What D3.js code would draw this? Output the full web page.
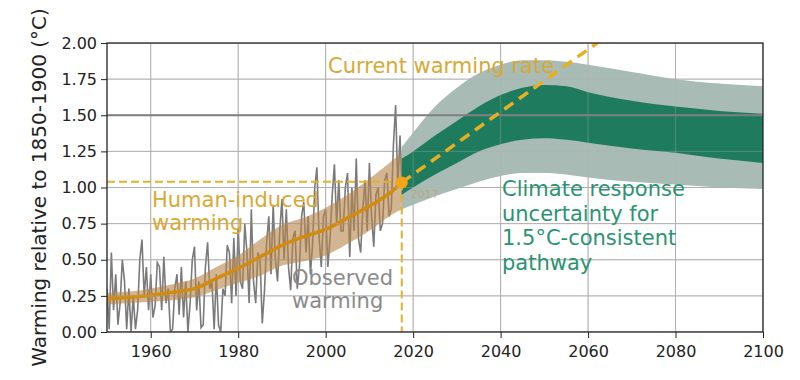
<!DOCTYPE html>
<html>
<head>
<meta charset="utf-8">
<script src="https://cdn.jsdelivr.net/npm/d3@7"></script>
<style>
  body { margin: 0; background: #fff; }
  text { font-family: "DejaVu Sans", sans-serif; }
</style>
</head>
<body>
<div id="chart"></div>
<script>
// axis ticks
const xTicks = [1960, 1980, 2000, 2020, 2040, 2060, 2080, 2100]
const yTicks = [0, 0.25, 0.5, 0.75, 1.0, 1.25, 1.5, 1.75, 2.0]

// observed monthly-ish warming, two readings per year from 1950
const obsStart = 1950
const obsStep = 0.5
const obsValues = [
  0.30,0.02, 0.55,0.15, 0.40,0.05, 0.20,0.50, 0.35,0.02, 0.30,0.00, 0.25,0.02, 0.15,0.50, 0.64,0.25, 0.45,0.15,
  0.40,0.10, 0.18,0.48, 0.45,0.15, 0.52,0.20, 0.30,0.00, 0.02,0.30, 0.40,0.12, 0.45,0.10, 0.35,0.00, 0.20,0.50,
  0.59,0.15, 0.35,0.03, 0.05,0.45, 0.62,0.30, 0.35,0.02, 0.40,0.05, 0.00,0.30, 0.25,0.60, 0.55,0.20, 0.65,0.25,
  0.72,0.35, 0.30,0.75, 0.55,0.20, 0.85,0.35, 0.20,0.55, 0.50,0.06, 0.28,0.62, 0.80,0.40, 0.88,0.50, 0.35,0.70,
  0.92,0.50, 0.85,0.45, 0.29,0.65, 0.70,0.30, 0.45,0.80, 0.90,0.55, 0.80,0.40, 0.60,1.00, 1.14,0.65, 0.45,0.80,
  0.85,0.45, 0.65,0.95, 1.16,0.75, 1.05,0.70, 0.70,1.00, 1.10,0.52, 1.00,0.70, 1.20,0.65, 0.55,0.85, 1.05,0.70,
  1.17,0.80, 0.59,0.95, 1.00,0.70, 0.75,1.05, 1.10,0.80, 0.85,1.30, 1.57,1.00, 1.36,0.95
]

// human-induced warming and its likely range
const humanYears = [1950, 1955, 1960, 1965, 1970, 1975, 1980, 1985, 1990, 1995, 2000, 2005, 2010, 2015, 2017.4]
const humanMid   = [0.23, 0.24, 0.255, 0.275, 0.30, 0.37, 0.44, 0.52, 0.60, 0.66, 0.71, 0.79, 0.87, 0.97, 1.035]
const humanLow   = [0.19, 0.20, 0.21, 0.22, 0.24, 0.29, 0.34, 0.39, 0.46, 0.49, 0.53, 0.61, 0.70, 0.81, 0.85]
const humanHigh  = [0.27, 0.28, 0.30, 0.33, 0.37, 0.45, 0.53, 0.64, 0.74, 0.79, 0.86, 0.95, 1.06, 1.18, 1.24]

// climate response uncertainty for 1.5C pathway
const pathYears    = [2017.4, 2020, 2025, 2030, 2035, 2040, 2045, 2050, 2055, 2060, 2070, 2080, 2090, 2100]
const pathOuterTop = [1.28, 1.38, 1.56, 1.69, 1.79, 1.85, 1.88, 1.88, 1.87, 1.85, 1.80, 1.75, 1.72, 1.70]
const pathInnerTop = [1.20, 1.25, 1.36, 1.46, 1.56, 1.64, 1.69, 1.71, 1.70, 1.66, 1.60, 1.56, 1.53, 1.51]
const pathInnerBot = [0.95, 1.00, 1.09, 1.17, 1.25, 1.30, 1.33, 1.34, 1.33, 1.31, 1.27, 1.24, 1.20, 1.17]
const pathOuterBot = [0.85, 0.88, 0.94, 0.99, 1.04, 1.08, 1.10, 1.10, 1.09, 1.07, 1.04, 1.02, 1.00, 0.99]

// current point and warming-rate line
const current = { year: 2017.4, value: 1.035 }
const rateLine = [[2017.4, 1.035], [2066, 2.085]]

const W = 800, H = 380
const pL = 107, pR = 763, pT = 43, pB = 332

const x = d3.scaleLinear().domain([1950, 2100]).range([pL, pR])
const y = d3.scaleLinear().domain([0, 2]).range([pB, pT])

const svg = d3.select('#chart').append('svg')
  .attr('width', W).attr('height', H)

svg.append('defs').append('clipPath').attr('id', 'plot')
  .append('rect').attr('x', pL).attr('y', pT)
  .attr('width', pR - pL).attr('height', pB - pT)

const plot = svg.append('g').attr('clip-path', 'url(#plot)')

function drawGrid(g, op) {
  g.selectAll('.gx').data(xTicks).enter().append('line')
    .attr('x1', d => x(d)).attr('x2', d => x(d))
    .attr('y1', pT).attr('y2', pB)
    .attr('stroke', '#b0b0b0').attr('stroke-width', 1).attr('opacity', op)
  g.selectAll('.gy').data(yTicks).enter().append('line')
    .attr('x1', pL).attr('x2', pR)
    .attr('y1', d => y(d)).attr('y2', d => y(d))
    .attr('stroke', '#b0b0b0').attr('stroke-width', 1).attr('opacity', op)
}
drawGrid(plot.append('g'), 1)

// observed
const obs = obsValues.map((v, i) => [obsStart + i * obsStep, v])
plot.append('path')
  .datum(obs)
  .attr('d', d3.line().x(d => x(d[0])).y(d => y(d[1])))
  .attr('fill', 'none')
  .attr('stroke', '#6c6c6c')
  .attr('stroke-opacity', 0.9)
  .attr('stroke-width', 1.6)

// human-induced band + line
const hum = humanYears.map((yr, i) => ({ yr, mid: humanMid[i], lo: humanLow[i], hi: humanHigh[i] }))
plot.append('path')
  .datum(hum)
  .attr('d', d3.area().curve(d3.curveMonotoneX)
    .x(d => x(d.yr)).y0(d => y(d.lo)).y1(d => y(d.hi)))
  .attr('fill', '#b8844a').attr('fill-opacity', 0.6)

plot.append('path')
  .datum(hum)
  .attr('d', d3.line().curve(d3.curveMonotoneX).x(d => x(d.yr)).y(d => y(d.mid)))
  .attr('fill', 'none').attr('stroke', '#d18c10').attr('stroke-width', 3.5)

// pathway bands
const band = pathYears.map((yr, i) => ({
  yr, ot: pathOuterTop[i], it: pathInnerTop[i], ib: pathInnerBot[i], ob: pathOuterBot[i]
}))
plot.append('path')
  .datum(band)
  .attr('d', d3.area().curve(d3.curveMonotoneX)
    .x(d => x(d.yr)).y0(d => y(d.ob)).y1(d => y(d.ot)))
  .attr('fill', '#a8bbb4')
plot.append('path')
  .datum(band)
  .attr('d', d3.area().curve(d3.curveMonotoneX)
    .x(d => x(d.yr)).y0(d => y(d.ib)).y1(d => y(d.it)))
  .attr('fill', '#1f7b5d')

// grid shows faintly through the bands
drawGrid(plot.append('g'), 0.35)

// 1.5 line
plot.append('line')
  .attr('x1', pL).attr('x2', pR)
  .attr('y1', y(1.5)).attr('y2', y(1.5))
  .attr('stroke', '#7f7f7f').attr('stroke-width', 2)

// texts
const gold = '#d8a935'
function label(lines, tx, ty, color, lh) {
  const t = svg.append('text').attr('x', tx).attr('y', ty)
    .attr('fill', color).attr('font-size', 21)
  lines.forEach((s, i) => t.append('tspan').attr('x', tx).attr('dy', i ? lh : 0).text(s))
}
label(['Current warming rate'], 328, 73, gold, 0)
label(['Human-induced', 'warming'], 152, 207, gold, 23)
label(['Observed', 'warming'], 292, 285, '#8a8a8a', 23)
label(['Climate response', 'uncertainty for', '1.5°C-consistent', 'pathway'], 502, 196, '#2a9372', 24.5)

svg.append('text')
  .attr('x', x(current.year) + 9).attr('y', y(current.value) + 16)
  .attr('font-size', 11).attr('fill', '#c7a36a').attr('opacity', 0.7)
  .text('2017')

// dashed guides
plot.append('line')
  .attr('x1', pL).attr('x2', x(current.year))
  .attr('y1', y(current.value + 0.005)).attr('y2', y(current.value + 0.005))
  .attr('stroke', '#e3b12b').attr('stroke-width', 2).attr('stroke-dasharray', '8,4')
plot.append('line')
  .attr('x1', x(current.year)).attr('x2', x(current.year))
  .attr('y1', y(current.value)).attr('y2', pB)
  .attr('stroke', '#e3b12b').attr('stroke-width', 2).attr('stroke-dasharray', '8,4')

plot.append('path')
  .datum(rateLine)
  .attr('d', d3.line().x(d => x(d[0])).y(d => y(d[1])))
  .attr('fill', 'none').attr('stroke', '#e8b020')
  .attr('stroke-width', 3.5).attr('stroke-dasharray', '11,7')

plot.append('circle')
  .attr('cx', x(current.year)).attr('cy', y(current.value)).attr('r', 6)
  .attr('fill', '#f2a516')

// frame + axes
svg.append('rect')
  .attr('x', pL).attr('y', pT)
  .attr('width', pR - pL).attr('height', pB - pT)
  .attr('fill', 'none').attr('stroke', '#222').attr('stroke-width', 1.3)

const yAxis = svg.append('g')
  .attr('transform', `translate(${pL},0)`)
  .call(d3.axisLeft(y).tickValues(yTicks).tickFormat(d3.format('.2f')).tickSize(6).tickPadding(4))
const xAxis = svg.append('g')
  .attr('transform', `translate(0,${pB})`)
  .call(d3.axisBottom(x).tickValues(xTicks).tickFormat(d3.format('d')).tickSize(6).tickPadding(8))
;[xAxis, yAxis].forEach(a => {
  a.select('.domain').remove()
  a.selectAll('text').attr('font-size', 16).attr('font-family', 'DejaVu Sans').attr('fill', '#222')
  a.selectAll('line').attr('stroke', '#222')
})

svg.append('text')
  .attr('transform', `translate(46,${(pT + pB) / 2}) rotate(-90)`)
  .attr('text-anchor', 'middle')
  .attr('font-size', 20).attr('fill', '#222')
  .text('Warming relative to 1850-1900 (°C)')
</script>
</body>
</html>
